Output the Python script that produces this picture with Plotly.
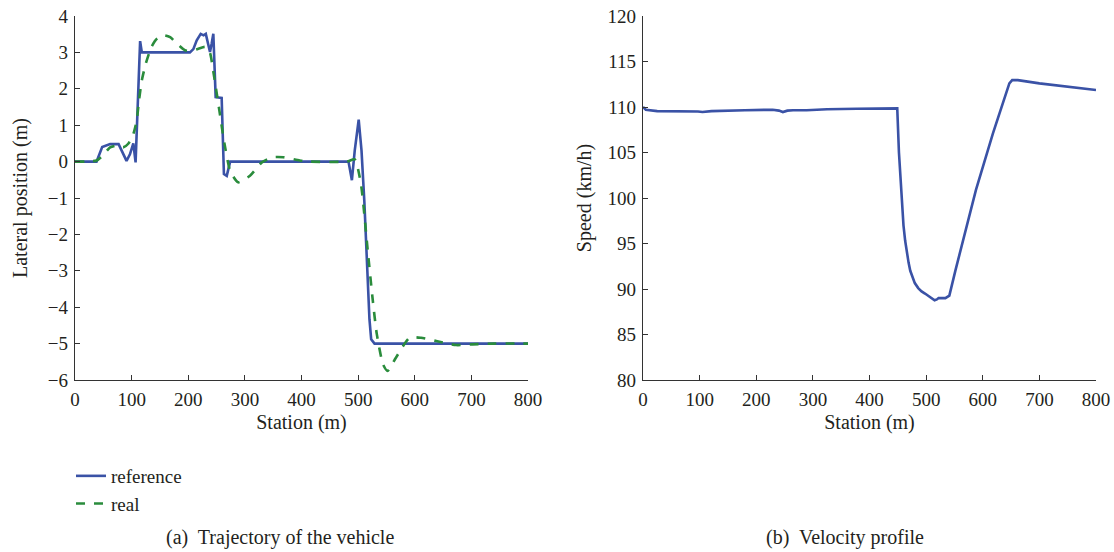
import plotly.graph_objects as go

# ---- data ----
ref_station = [0, 38, 48, 62, 77, 80, 91, 97, 103, 107, 115, 118, 203, 209, 215, 222, 227, 231,
               235.5, 238.4, 241.3, 244.3, 248.4, 259, 263, 268, 274, 483, 489, 494, 501,
               506, 511, 516, 520, 523, 529, 800]
ref_lateral = [0, 0, 0.40, 0.48, 0.48, 0.38, 0.02, 0.20, 0.50, -0.02, 3.31, 3.0, 3.0, 3.09, 3.33,
               3.51, 3.47, 3.51, 3.24, 3.01, 3.24, 3.51, 1.77, 1.75, -0.34, -0.39, 0.0, 0.0, -0.51,
               0.3, 1.15, 0.3, -1.1, -2.95, -4.33, -4.88, -5.0, -5.0]

real_station = [0, 20, 38, 50, 62, 74, 85, 94, 103, 109, 113, 118, 125, 135, 145, 157, 168, 180,
                194, 206, 218, 230, 238, 244, 255, 264, 274, 288, 309, 330, 350, 368, 397, 415,
                480, 494, 505, 517, 526, 533, 544, 552, 567, 591, 611, 638, 673, 702, 740, 800]
real_lateral = [0, 0, 0.03, 0.18, 0.39, 0.44, 0.39, 0.49, 0.76, 1.13, 1.68, 2.23, 2.69, 3.15, 3.38,
                3.47, 3.42, 3.24, 3.06, 3.04, 3.10, 3.15, 3.01, 2.50, 1.40, 0.49, -0.25, -0.57,
                -0.39, -0.02, 0.12, 0.12, 0.03, 0.0, 0.0, 0.06, -0.62, -2.45, -3.83, -4.74, -5.57,
                -5.75, -5.38, -4.84, -4.84, -4.93, -5.04, -5.02, -5.0, -5.0]

speed_station = [0, 5, 25, 60, 97, 105, 121, 180, 229, 240, 247, 255, 265, 289, 325, 378, 449,
                 452, 456, 460, 463, 466, 469, 472, 476, 480, 486, 492, 498, 504, 510, 515, 519,
                 522, 534, 541, 552, 570, 588, 618, 642, 647, 652, 662, 700, 750, 800]
speed_kmh = [110.0, 109.7, 109.55, 109.55, 109.5, 109.45, 109.55, 109.65, 109.7, 109.6, 109.45,
             109.6, 109.65, 109.65, 109.75, 109.8, 109.85, 105.0, 100.3, 97.0, 95.3, 94.0, 92.9,
             92.0, 91.2, 90.65, 90.1, 89.74, 89.5, 89.27, 88.95, 88.76, 88.85, 89.0, 89.0, 89.27,
             92.1, 96.5, 100.9, 107.1, 111.8, 112.6, 112.95, 112.95, 112.6, 112.25, 111.87]

x_ticks = [0, 100, 200, 300, 400, 500, 600, 700, 800]
lat_ticks = [-6, -5, -4, -3, -2, -1, 0, 1, 2, 3, 4]
speed_ticks = [80, 85, 90, 95, 100, 105, 110, 115, 120]

BLUE = "#3a52a6"
GREEN = "#2a8c3c"
FONT = "Liberation Serif"
TXT = "#231f20"

fig = go.Figure()
fig.add_trace(go.Scatter(x=ref_station, y=ref_lateral, mode="lines", name="reference",
                         line=dict(color=BLUE, width=2.6), xaxis="x", yaxis="y"))
fig.add_trace(go.Scatter(x=real_station, y=real_lateral, mode="lines", name="real",
                         line=dict(color=GREEN, width=2.6, dash="dash", shape="spline", smoothing=0.6),
                         xaxis="x", yaxis="y"))
fig.add_trace(go.Scatter(x=speed_station, y=speed_kmh, mode="lines", name="speed", showlegend=False,
                         line=dict(color=BLUE, width=2.6), xaxis="x2", yaxis="y2"))

W, H = 1114, 552


def fx(px):
    return px / W


def fy(py):
    return 1 - py / H


ydom = [fy(380), fy(16)]
axis_common = dict(showline=True, linecolor="#333", linewidth=1.3, ticks="inside", ticklen=5,
                   tickcolor="#333", showgrid=False, zeroline=False, mirror=False,
                   automargin=False, ticklabelstandoff=2, ticklabeloverflow="allow",
                   tickfont=dict(family=FONT, size=19, color=TXT))
title_font = dict(family=FONT, size=20, color=TXT)

fig.update_layout(
    width=W, height=H,
    margin=dict(l=0, r=0, t=0, b=0),
    paper_bgcolor="white", plot_bgcolor="white",
    font=dict(family=FONT, color=TXT),
    xaxis=dict(domain=[fx(75), fx(528)], range=[0, 800], tickvals=x_ticks, anchor="y",
               title=dict(text="Station (m)", font=title_font, standoff=6), **axis_common),
    yaxis=dict(domain=ydom, range=[-6, 4], tickvals=lat_ticks, anchor="x",
               title=dict(text="Lateral position (m)", font=title_font, standoff=14), **axis_common),
    xaxis2=dict(domain=[fx(643), fx(1096)], range=[0, 800], tickvals=x_ticks, anchor="y2",
                title=dict(text="Station (m)", font=title_font, standoff=6), **axis_common),
    yaxis2=dict(domain=ydom, range=[80, 120], tickvals=speed_ticks, anchor="x2",
                title=dict(text="Speed (km/h)", font=title_font, standoff=10), **axis_common),
    legend=dict(x=fx(71), y=fy(457), xanchor="left", yanchor="top",
                bgcolor="rgba(0,0,0,0)", font=dict(family=FONT, size=19, color=TXT),
                tracegroupgap=0),
    annotations=[
        dict(text="(a)  Trajectory of the vehicle", x=fx(280), y=fy(537), xref="paper",
             yref="paper", xanchor="center", yanchor="middle", showarrow=False,
             font=dict(family=FONT, size=20, color=TXT)),
        dict(text="(b)  Velocity profile", x=fx(845), y=fy(537), xref="paper",
             yref="paper", xanchor="center", yanchor="middle", showarrow=False,
             font=dict(family=FONT, size=20, color=TXT)),
    ],
)

# remove the browser's default 8 px body margin so the figure fills the window exactly
fig.write_html("out.html", config={"displayModeBar": False},
               post_script="document.body.style.margin='0px';")
